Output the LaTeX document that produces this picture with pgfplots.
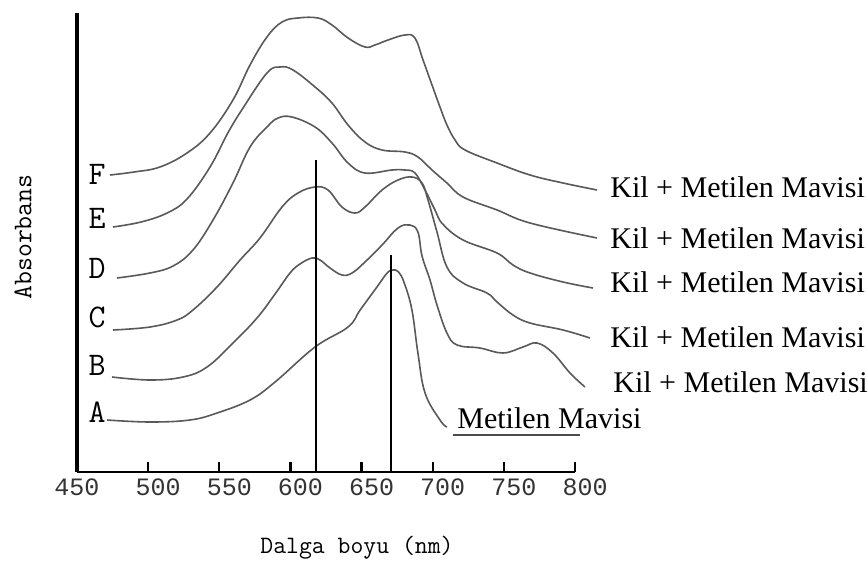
\documentclass[border=0pt]{standalone}
\usepackage{fontspec}
\setmainfont{Liberation Serif}
\newfontfamily\monofont{Liberation Mono}
\usepackage{pgfplots}
\pgfplotsset{compat=1.18}
\begin{document}
\begin{tikzpicture}[x=1pt,y=1pt]
\path[use as bounding box] (0,0) rectangle (433.5,285);
\begin{axis}[
  at={(38.5pt,49pt)}, anchor=south west,
  scale only axis, width=249pt, height=229.5pt,
  xmin=450, xmax=800, ymin=-2, ymax=457,
  axis lines=left, axis line style={-},
  x axis line style={line width=1.4pt},
  y axis line style={line width=2pt},
  ytick=\empty,
  xtick={500,550,...,800},
  extra x ticks={450}, extra x tick labels={450},
  extra x tick style={major tick length=0pt, xticklabel style={xshift=-5pt}},
  xtick align=inside, major tick length=5pt,
  tick style={line width=1.1pt, black},
  /pgf/number format/assume math mode=true,
  /pgf/number format/1000 sep={},
  xticklabel style={font=\monofont\fontsize{12.5}{14}\selectfont, xshift=5pt, black!80},
  clip=false,
  every axis plot/.append style={no markers},
]
\pgfplotsset{spec/.style={draw=black!65, line width=0.8pt, smooth, tension=0.65}}
% F
\addplot[spec] coordinates {(473.2,295) (490.0,298) (508.3,303) (527.3,317) (543.5,337) (559.6,370) (571.6,405) (583.5,433) (594.1,448) (605.3,452) (619.4,452) (629.2,445) (640.5,432) (652.4,423) (659.4,425) (668.6,430) (680.5,435) (687.5,432) (693.2,410) (699.5,385) (705.1,363) (710.0,345) (715.7,330) (722.7,320) (745.2,307) (768.4,295) (791.6,287) (815.5,280)};
% E
\addplot[spec] coordinates {(475.3,243) (495.0,248) (513.3,257) (527.3,271) (543.5,303) (556.0,337) (566.7,362) (583.5,397) (592.7,403) (601.8,400) (617.3,383) (629.2,367) (640.5,345) (652.4,328) (664.4,320) (680.5,318) (689.6,313) (699.5,300) (710.0,287) (721.3,273) (745.2,260) (768.4,247) (815.5,232)};
% D
\addplot[spec] coordinates {(478.1,192) (501.3,197) (517.5,204) (531.5,220) (545.6,250) (559.6,287) (571.6,323) (583.5,343) (591.3,352) (601.1,353) (617.3,343) (629.2,327) (640.5,307) (652.4,297) (671.4,300) (680.5,300) (687.5,297) (694.6,280) (701.6,260) (707.0,246) (721.3,230) (745.2,217) (756.4,205) (768.4,197) (791.6,188) (812.6,182)};
% C
\addplot[spec] coordinates {(475.3,140) (501.3,143) (520.3,150) (531.5,160) (548.4,183) (564.6,210) (578.6,232) (594.1,263) (605.3,277) (617.3,283) (626.4,280) (636.2,263) (645.4,257) (652.4,263) (664.4,280) (675.6,290) (685.4,293) (692.5,287) (696.7,270) (703.0,238) (710.0,203) (721.3,187) (738.1,177) (745.2,168) (756.4,155) (768.4,147) (791.6,140) (810.5,132)};
% B
\addplot[spec] coordinates {(474.6,93) (501.3,90) (524.5,93) (541.4,103) (559.6,127) (576.5,152) (589.2,176) (599.7,197) (606.7,206) (615.2,212) (620.8,210) (627.8,202) (636.2,195) (643.3,197) (652.4,208) (664.4,225) (675.6,242) (684.0,245) (689.6,238) (692.5,214) (698.1,190) (703.0,165) (710.0,137) (717.1,125) (733.2,122) (749.4,117) (763.4,123) (773.3,127) (784.5,117) (796.5,97) (807.0,83)};
% A (Metilen Mavisi)
\addplot[spec] coordinates {(471.1,50) (501.3,48) (529.4,50) (548.4,57) (571.6,70) (589.2,88) (617.3,123) (640.5,143) (649.0,160) (660.8,183) (668.0,197) (672.1,200) (676.0,198) (680.0,187) (685.4,160) (689.6,117) (694.6,77) (705.1,50) (710.0,43)};
% peak markers
\addplot[black, line width=0.7pt] coordinates {(618.0,-2) (618.0,310)};
\addplot[black, line width=0.7pt] coordinates {(670.7,-2) (670.7,215)};
\end{axis}
% curve letters
\begin{scope}[every node/.style={font=\ttfamily\fontsize{16.5}{18}\selectfont, inner sep=0pt}]
\node at (48.5,198) {F};
\node at (48.5,176) {E};
\node at (48.5,151) {D};
\node at (48.5,126.5) {C};
\node at (48.5,102.5) {B};
\node at (48.5,79) {A};
\end{scope}
% series labels
\begin{scope}[every node/.style={font=\fontsize{15}{18}\selectfont, anchor=base west, inner sep=0pt}]
\node at (305,186.5) {Kil + Metilen Mavisi};
\node at (305,161) {Kil + Metilen Mavisi};
\node at (305,139) {Kil + Metilen Mavisi};
\node at (305,111.5) {Kil + Metilen Mavisi};
\node at (306.5,89) {Kil + Metilen Mavisi};
\node at (228.5,71) {Metilen Mavisi};
\end{scope}
\draw[line width=0.6pt, black!70] (226.5,67.5) -- (290,67.5);
% axis titles
\node[rotate=90, font=\ttfamily\fontsize{13.5}{15}\selectfont] at (11.5,166.5) {Absorbans};
\node[font=\ttfamily\fontsize{12.5}{14}\selectfont] at (178.5,11) {Dalga boyu (nm)};
\end{tikzpicture}
\end{document}
